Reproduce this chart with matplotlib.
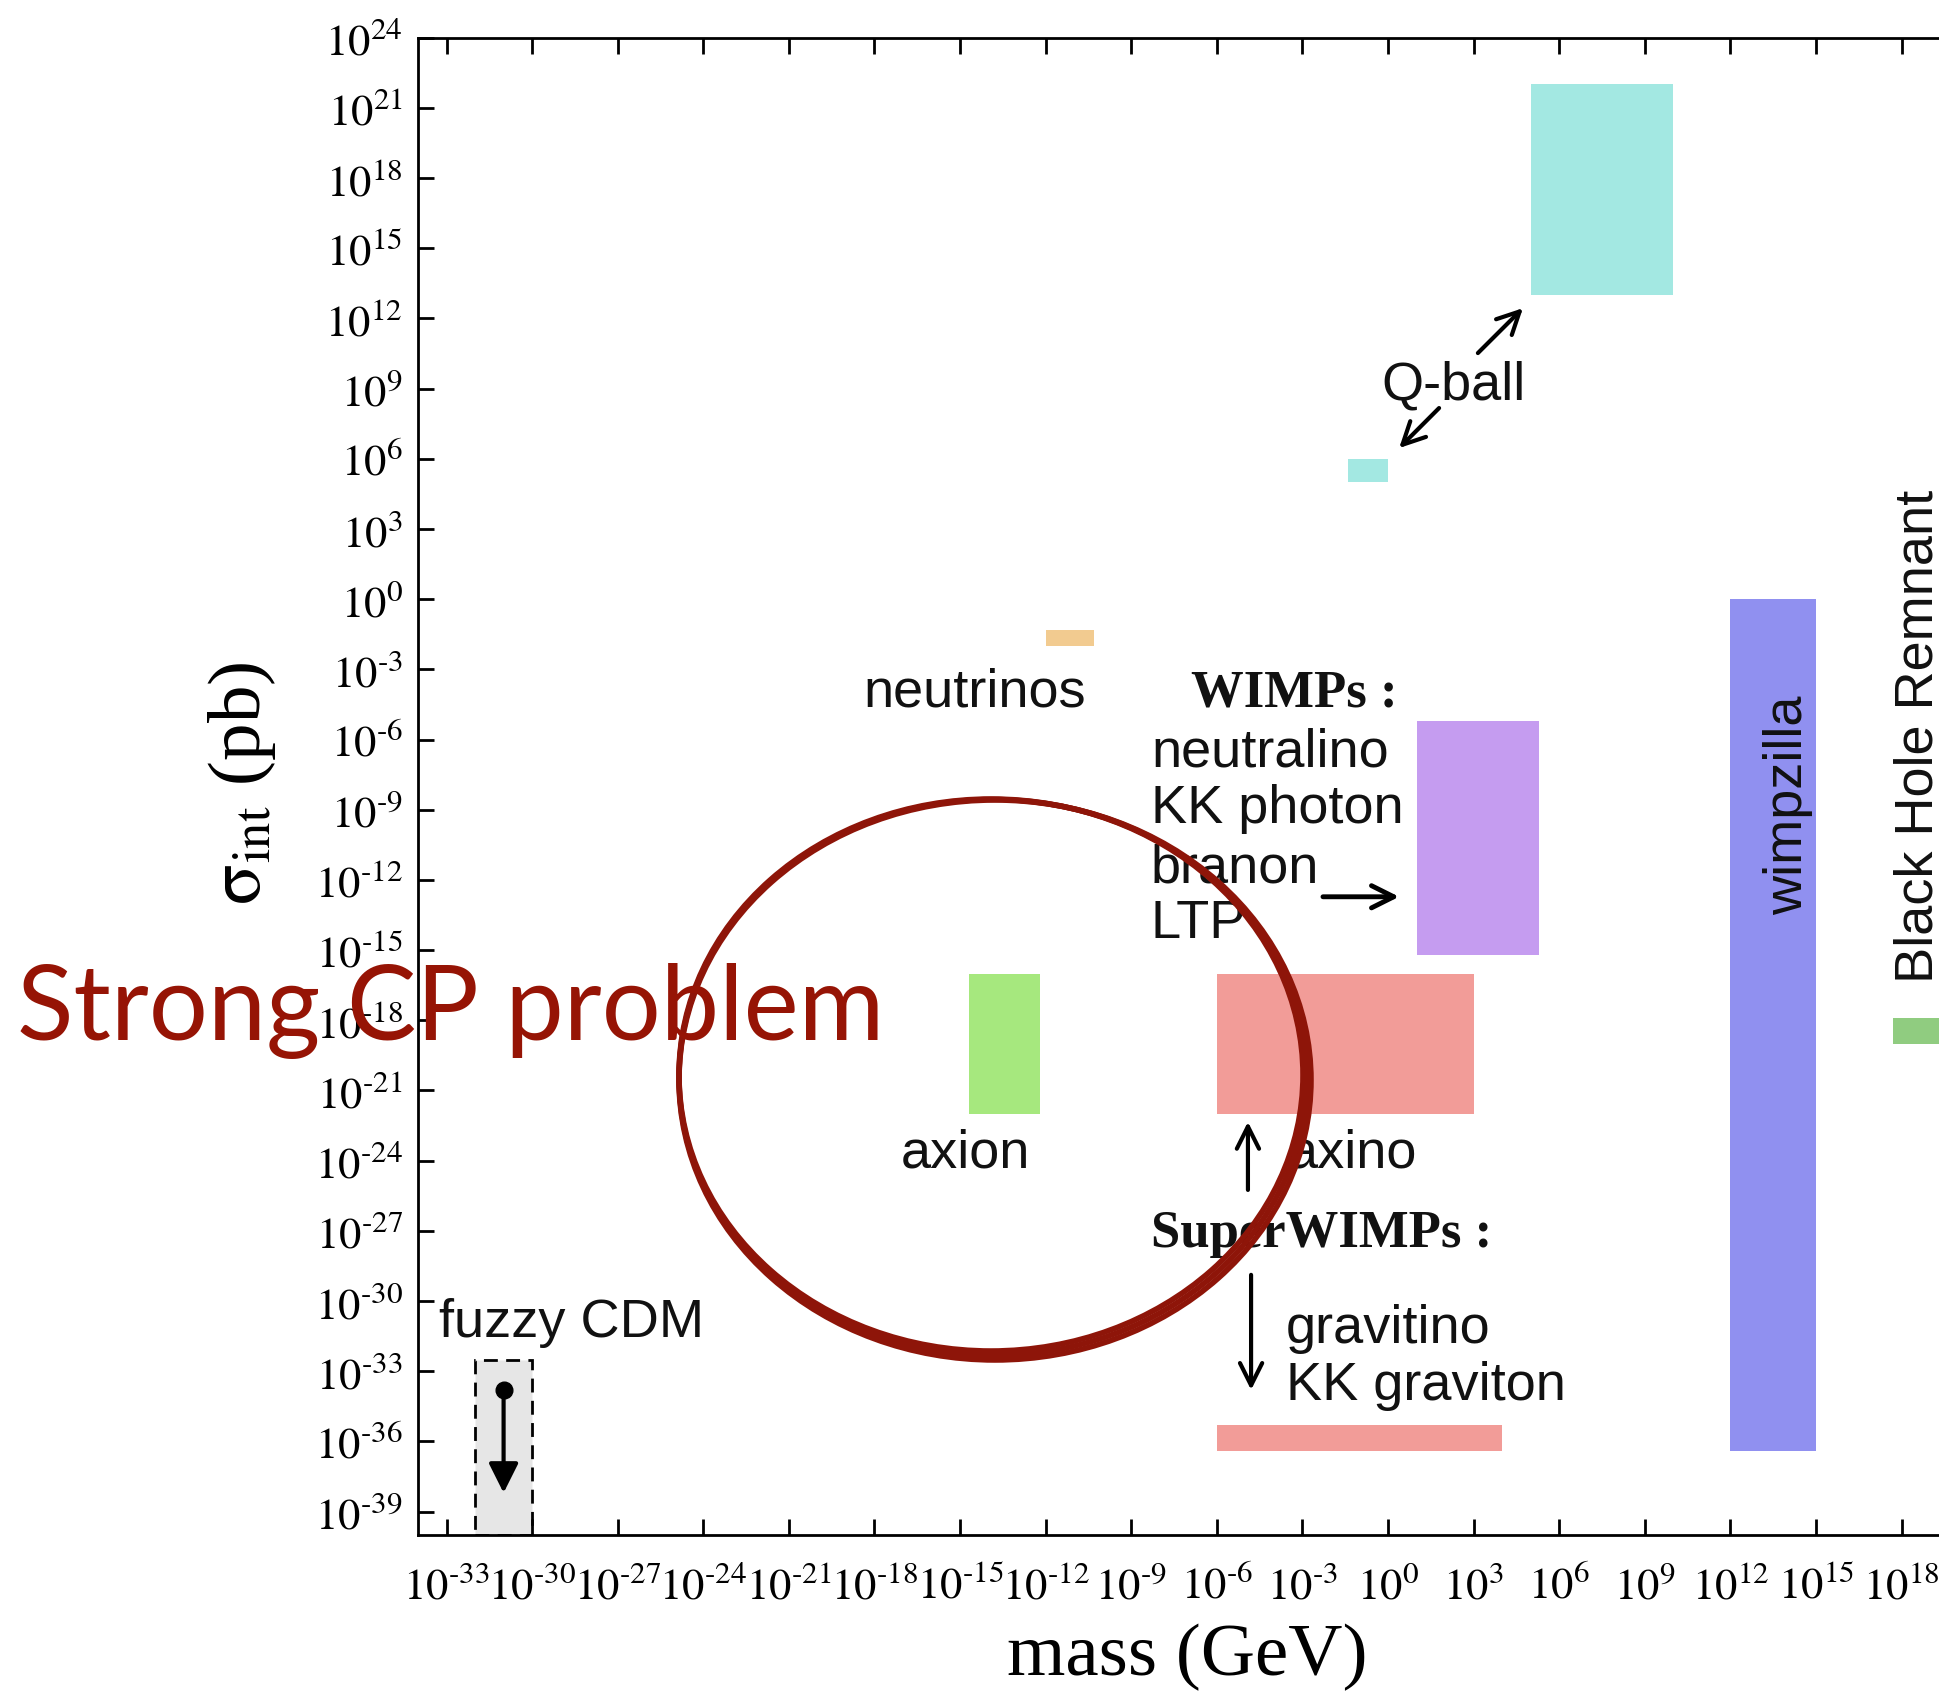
import math
import matplotlib
matplotlib.use('Agg')
import matplotlib.pyplot as plt
from matplotlib.patches import Ellipse
from matplotlib.ticker import FixedLocator, FuncFormatter, NullLocator

# Области на плоскости (масса, сечение): показатели степени log10
region_names = ['Q-ball', 'Q-ball (light)', 'neutrinos', 'axion', 'axino',
                'WIMPs', 'gravitino', 'wimpzilla', 'Black Hole Remnant']
mass_lo = [5.0, -1.4, -12.0, -14.7, -6.0, 1.0, -6.0, 12.0, 17.7]
mass_hi = [10.0, 0.0, -10.3, -12.2, 3.0, 5.3, 4.0, 15.0, 20.5]
sigma_lo = [13.0, 5.0, -2.0, -22.0, -22.0, -15.2, -36.4, -36.4, -19.0]
sigma_hi = [22.0, 6.0, -1.3, -16.0, -16.0, -5.2, -35.3, 0.0, -17.9]
region_colors = ['#A3E8E2', '#A3E8E2', '#F2CB90', '#A6E87E', '#F29C98',
                 '#C59CF0', '#F29C98', '#9090F0', '#90CC80']

# fuzzy CDM: верхняя граница и стрелка вниз
fuzzy_mass = [-32.0, -30.0]
fuzzy_sigma_top = -32.5
fuzzy_point = (-31.0, -33.8)
fuzzy_arrow_end = -38.2

xtick_exp = [-33, -30, -27, -24, -21, -18, -15, -12, -9, -6, -3, 0, 3, 6, 9, 12, 15, 18, 21]
ytick_exp = [-39, -36, -33, -30, -27, -24, -21, -18, -15, -12, -9, -6, -3, 0,
             3, 6, 9, 12, 15, 18, 21, 24]

plt.rcParams['mathtext.fontset'] = 'stix'
SANS = 'Liberation Sans'
SERIF = 'Liberation Serif'

W, H = 1940, 1694
def fx(px): return px / W
def fy(py): return 1 - py / H


def pow_label(v, pos):
    k = round(math.log10(v))
    if k < 0:
        return r'$10^{\text{-}%d}$' % (-k)
    return r'$10^{%d}$' % k


fig = plt.figure(figsize=(W / 100, H / 100), dpi=100)
ax = fig.add_axes([fx(418), fy(1535), 55 * 28.53 / W, (1535 - 37.7) / H])
ax.set_xscale('log')
ax.set_yscale('log')
ax.set_xlim(1e-34, 1e21)
ax.set_ylim(1e-40, 1e24)

for sp in ax.spines.values():
    sp.set_linewidth(2)

ax.xaxis.set_major_locator(FixedLocator([10.0 ** k for k in xtick_exp]))
ax.yaxis.set_major_locator(FixedLocator([10.0 ** k for k in ytick_exp]))
ax.xaxis.set_minor_locator(NullLocator())
ax.yaxis.set_minor_locator(NullLocator())
ax.xaxis.set_major_formatter(FuncFormatter(pow_label))
ax.yaxis.set_major_formatter(FuncFormatter(pow_label))
ax.tick_params(which='major', direction='in', length=11.5, width=2,
               top=True, right=True, labelsize=32)
ax.tick_params(axis='x', pad=21)
ax.tick_params(axis='y', pad=11)

# прямоугольные области
for lo_m, hi_m, lo_s, hi_s, c in zip(mass_lo, mass_hi, sigma_lo, sigma_hi, region_colors):
    xs = [10 ** lo_m, 10 ** hi_m, 10 ** hi_m, 10 ** lo_m]
    ys = [10 ** lo_s, 10 ** lo_s, 10 ** hi_s, 10 ** hi_s]
    ax.fill(xs, ys, color=c, lw=0, zorder=1)

# fuzzy CDM
fxs = [10 ** fuzzy_mass[0], 10 ** fuzzy_mass[1], 10 ** fuzzy_mass[1], 10 ** fuzzy_mass[0]]
fys = [1e-40, 1e-40, 10 ** fuzzy_sigma_top, 10 ** fuzzy_sigma_top]
ax.fill(fxs, fys, facecolor='#E6E6E6', edgecolor='k', lw=2, ls=(0, (5, 3)), zorder=1)
ax.plot(10 ** fuzzy_point[0], 10 ** fuzzy_point[1], 'o', color='k', ms=12, zorder=3)
ax.annotate('', xy=(10 ** fuzzy_point[0], 10 ** fuzzy_arrow_end),
            xytext=(10 ** fuzzy_point[0], 10 ** fuzzy_point[1]),
            arrowprops=dict(arrowstyle='-|>', lw=3, color='k', mutation_scale=45,
                            shrinkA=0, shrinkB=0), zorder=3)


def arrow(m0, s0, m1, s1, lw=3):
    ax.annotate('', xy=(10 ** m1, 10 ** s1), xytext=(10 ** m0, 10 ** s0),
                arrowprops=dict(arrowstyle='->', lw=lw, color='k', mutation_scale=40,
                                shrinkA=0, shrinkB=0))


def label(m, s, txt, **kw):
    kw.setdefault('family', SANS)
    kw.setdefault('fontsize', 39)
    kw.setdefault('va', 'baseline')
    ax.text(10 ** m, 10 ** s, txt, color='#111111', **kw)


label(-0.25, 8.52, 'Q-ball')
arrow(3.15, 10.52, 4.73, 12.44)
arrow(1.79, 8.17, 0.39, 6.46)

label(-18.4, -4.6, 'neutrinos')
label(-6.9, -4.6, 'WIMPs :', family=SERIF, fontweight='bold', fontsize=38)
label(-8.31, -7.17, 'neutralino')
label(-8.31, -9.56, 'KK photon')
label(-8.31, -12.13, 'branon')
label(-8.31, -14.48, 'LTP')
arrow(-2.28, -12.72, 0.39, -12.72, lw=3.5)

label(-17.07, -24.3, 'axion')
label(-3.5, -24.3, 'axino')
arrow(-4.91, -25.25, -4.91, -22.34)
label(-8.31, -27.68, 'SuperWIMPs :', family=SERIF, fontweight='bold', fontsize=38)
arrow(-4.8, -28.88, -4.8, -33.8)
label(-3.58, -31.78, 'gravitino')
label(-3.58, -34.22, 'KK graviton')

label(14.02, -8.8, 'wimpzilla', rotation=90, ha='center', va='center')
label(18.61, -5.85, 'Black Hole Remnant', rotation=90, ha='center', va='center')
label(-33.26, -31.53, 'fuzzy CDM')

# подписи осей
fig.text(fx(1187), fy(1675), 'mass (GeV)', family=SERIF, fontsize=54,
         ha='center', va='baseline')
fig.text(fx(242), fy(783), r'$\mathrm{\sigma_{int}}$ (pb)', family=SERIF, fontsize=54,
         rotation=90, ha='center', va='center')

# рукописный круг и надпись
red = '#8E1509'
for cx, cy, w, h in [(991, 1075, 624, 552), (993, 1077.5, 628, 556), (995, 1080, 632, 560)]:
    fig.add_artist(Ellipse((fx(cx), fy(cy)), w / W, h / H, transform=fig.transFigure,
                           fill=False, edgecolor=red, lw=4, zorder=5))
fig.text(fx(17), fy(1040), 'Strong CP problem', family='Lato', fontsize=75,
         color='#961405', va='baseline', zorder=6)

fig.savefig('out.png', dpi=100)
